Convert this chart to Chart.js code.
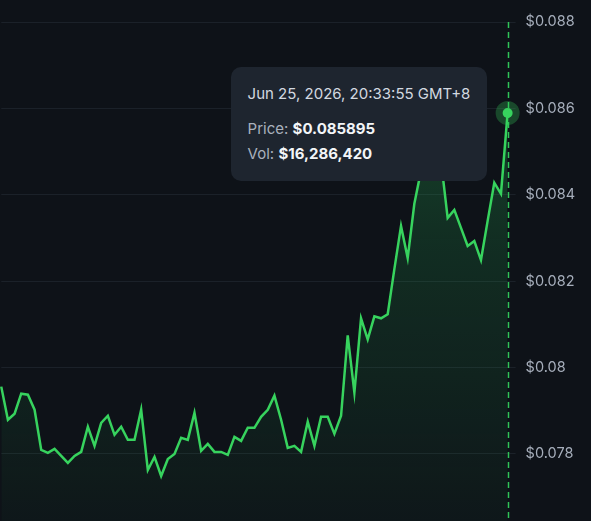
<!DOCTYPE html>
<html>
<head>
<meta charset="utf-8">
<script src="https://cdn.jsdelivr.net/npm/chart.js@4.4.1/dist/chart.umd.min.js"></script>
<style>
  html, body { margin: 0; padding: 0; background: #0e1218; }
  #wrap { position: relative; width: 591px; height: 521px; overflow: hidden; }
  #inner { position: absolute; left: 0; top: 0; width: 591px; height: 540px; }
  #tip {
    position: absolute; pointer-events: none; opacity: 0;
    background: #1e252f; border-radius: 10px;
    padding: 17px 17px 15px 17px; box-sizing: border-box;
    font-family: Inter, "Noto Sans", sans-serif; font-size: 15px; color: #d3d9e0;
    white-space: nowrap;
  }
  #tip .t { margin-bottom: 12px; color: #d3d9e0; line-height: 20px; }
  #tip .r { line-height: 25px; color: #a9b1bd; }
  #tip .r b { color: #f3f5f8; font-weight: 700; }
</style>
</head>
<body>
<div id="wrap">
  <div id="inner"><canvas id="priceChart"></canvas></div>
  <div id="tip"></div>
</div>
<script>
// price ticks (about one every few minutes), last one is the live price
const prices = [
  0.079558, 0.078791, 0.078930, 0.079395, 0.079372, 0.079023, 0.078093, 0.078023,
  0.078116, 0.077953, 0.077791, 0.077953, 0.078047, 0.078628, 0.078186, 0.078721,
  0.078884, 0.078442, 0.078628, 0.078326, 0.078326, 0.079023, 0.077628, 0.077930,
  0.077488, 0.077884, 0.078000, 0.078372, 0.078326, 0.078953, 0.078070, 0.078233,
  0.078047, 0.078047, 0.077977, 0.078395, 0.078302, 0.078605, 0.078605, 0.078860,
  0.079023, 0.079349, 0.078791, 0.078140, 0.078186, 0.078047, 0.078744, 0.078186,
  0.078860, 0.078860, 0.078465, 0.078884, 0.080744, 0.079419, 0.081140, 0.080651,
  0.081186, 0.081140, 0.081233, 0.082279, 0.083279, 0.082535, 0.083791, 0.084558,
  0.085023, 0.085140, 0.084791, 0.083465, 0.083651, 0.083233, 0.082814, 0.082930,
  0.082488, 0.083395, 0.084279, 0.084023, 0.085895
];
const labels = prices.map((p, i) => i);
const yTicks = [0.078, 0.080, 0.082, 0.084, 0.086, 0.088];
const yMin = 0.07644;
const yMax = 0.088;
const lastTime = 'Jun 25, 2026, 20:33:55 GMT+8';
const lastVolume = 16286420;

const green = '#37d35e';

function fillGradient(context) {
  const chart = context.chart;
  const area = chart.chartArea;
  if (!area) return 'rgba(55,211,94,0.15)';
  const g = chart.ctx.createLinearGradient(0, area.top, 0, area.bottom);
  g.addColorStop(0, 'rgba(40,190,90,0.34)');
  g.addColorStop(0.45, 'rgba(40,190,90,0.16)');
  g.addColorStop(1, 'rgba(40,190,90,0.03)');
  return g;
}

// dashed crosshair + glowing point at the active price
const crosshair = {
  id: 'crosshair',
  afterDatasetsDraw(chart) {
    const act = chart.tooltip.getActiveElements();
    if (!act.length) return;
    const el = act[0].element;
    const c = chart.ctx;
    const area = chart.chartArea;
    const lx = Math.round(el.x) + 0.5;
    c.save();
    c.strokeStyle = '#2fc457';
    c.lineWidth = 1.5;
    c.setLineDash([6, 4]);
    c.beginPath();
    c.moveTo(lx, area.top);
    c.lineTo(lx, area.bottom);
    c.stroke();
    c.setLineDash([]);
    c.fillStyle = 'rgba(55,211,94,0.28)';
    c.beginPath();
    c.arc(el.x, el.y, 12, 0, Math.PI * 2);
    c.fill();
    c.fillStyle = green;
    c.beginPath();
    c.arc(el.x, el.y, 5, 0, Math.PI * 2);
    c.fill();
    c.restore();
  }
};

function externalTip(context) {
  const tip = document.getElementById('tip');
  const model = context.tooltip;
  if (model.opacity === 0) { tip.style.opacity = 0; return; }
  const i = model.dataPoints[0].dataIndex;
  tip.innerHTML =
    '<div class="t">' + lastTime + '</div>' +
    '<div class="r">Price: <b>$' + prices[i].toFixed(6) + '</b></div>' +
    '<div class="r">Vol: <b>$' + lastVolume.toLocaleString('en-US') + '</b></div>';
  tip.style.opacity = 1;
  const w = tip.offsetWidth;
  tip.style.left = (model.caretX - 20 - w) + 'px';
  tip.style.top = (model.caretY - 46) + 'px';
}

const ctx = document.getElementById('priceChart').getContext('2d');
const priceChart = new Chart(ctx, {
  type: 'line',
  data: {
    labels: labels,
    datasets: [{
      data: prices,
      borderColor: green,
      borderWidth: 2.5,
      backgroundColor: fillGradient,
      fill: 'start',
      tension: 0,
      pointRadius: 0,
      pointHoverRadius: 0
    }]
  },
  options: {
    responsive: true,
    maintainAspectRatio: false,
    animation: false,
    layout: { padding: { top: 22, right: 6, left: 0, bottom: 0 } },
    plugins: {
      legend: { display: false },
      tooltip: { enabled: false, external: externalTip, mode: 'index', intersect: false }
    },
    scales: {
      x: { display: false, offset: false },
      y: {
        position: 'right',
        min: yMin,
        max: yMax,
        afterBuildTicks: (axis) => { axis.ticks = yTicks.map(v => ({ value: v })); },
        border: { display: false },
        grid: { color: '#1b2129', lineWidth: 1, drawTicks: true, tickLength: 8 },
        ticks: {
          color: '#a6aebb',
          padding: 10,
          font: { family: 'Inter', size: 14.5 },
          callback: (v) => '$' + Number(v.toFixed(3))
        }
      }
    }
  },
  plugins: [crosshair]
});

const last = prices.length - 1;
const pt = priceChart.getDatasetMeta(0).data[last];
priceChart.tooltip.setActiveElements([{ datasetIndex: 0, index: last }], { x: pt.x, y: pt.y });
priceChart.update();
</script>
</body>
</html>
